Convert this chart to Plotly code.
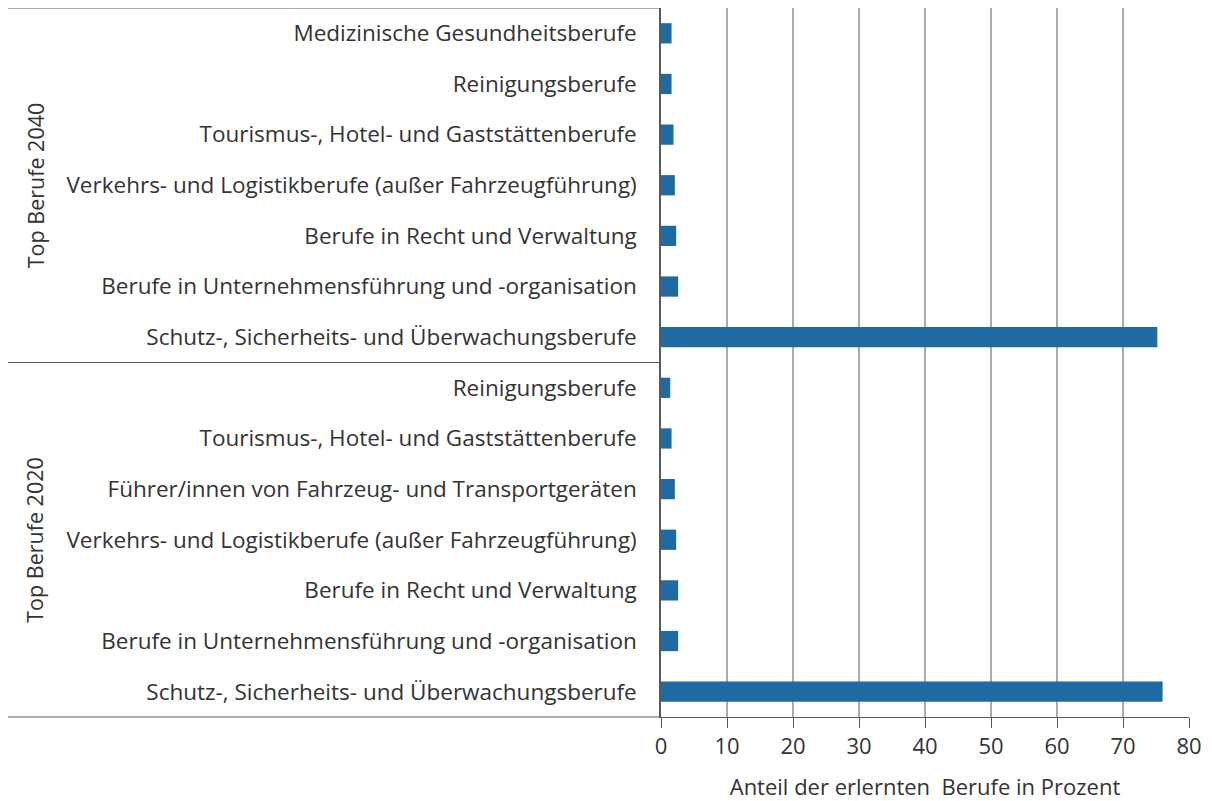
import plotly.graph_objects as go

labels_2040 = [
    "Medizinische Gesundheitsberufe",
    "Reinigungsberufe",
    "Tourismus-, Hotel- und Gaststättenberufe",
    "Verkehrs- und Logistikberufe (außer Fahrzeugführung)",
    "Berufe in Recht und Verwaltung",
    "Berufe in Unternehmensführung und -organisation",
    "Schutz-, Sicherheits- und Überwachungsberufe",
]
values_2040 = [1.6, 1.6, 1.9, 2.1, 2.3, 2.6, 75.2]

labels_2020 = [
    "Reinigungsberufe",
    "Tourismus-, Hotel- und Gaststättenberufe",
    "Führer/innen von Fahrzeug- und Transportgeräten",
    "Verkehrs- und Logistikberufe (außer Fahrzeugführung)",
    "Berufe in Recht und Verwaltung",
    "Berufe in Unternehmensführung und -organisation",
    "Schutz-, Sicherheits- und Überwachungsberufe",
]
values_2020 = [1.4, 1.6, 2.1, 2.3, 2.6, 2.6, 76.0]

group_titles = ["Top Berufe 2040", "Top Berufe 2020"]
x_ticks = [0, 10, 20, 30, 40, 50, 60, 70, 80]
x_title = "Anteil der erlernten\u00a0 Berufe in Prozent"

FONT = "Open Sans"
FS = 22.5
TXT = "#333333"
BAR = "#1F6BA1"

labels = labels_2040 + labels_2020
values = values_2040 + values_2020
n = len(labels)
ypos = list(range(n))

fig = go.Figure()
fig.add_trace(go.Bar(
    x=values, y=ypos, orientation="h",
    marker=dict(color=BAR, line=dict(width=0)),
    width=0.4, hoverinfo="x+text", text=labels, textposition="none",
))

# figure is placed at (8,8) in the page by the body margin
W, H = 1204, 793
L, R, T, B = 653, 23, 0, 84
pw = W - L - R
ph = H - T - B

def px_to_paper_x(px):
    return (px - L) / pw

line_col = "#595959"
shapes = []
for yfrac in [1.0, 0.5, 0.0]:
    shapes.append(dict(type="line", xref="paper", yref="paper",
                       x0=px_to_paper_x(0), x1=0, y0=yfrac, y1=yfrac,
                       line=dict(color=line_col, width=1)))

annotations = []
for gi, title in enumerate(group_titles):
    yc = 1 - (gi + 0.5) / 2
    annotations.append(dict(text=title, xref="paper", yref="paper",
                            x=px_to_paper_x(27), y=yc, textangle=-90,
                            showarrow=False, xanchor="center", yanchor="middle",
                            font=dict(family=FONT, size=21.5, color=TXT)))

fig.update_layout(
    width=W, height=H,
    margin=dict(l=L, r=R, t=T, b=B, pad=0),
    paper_bgcolor="white", plot_bgcolor="white",
    showlegend=False,
    font=dict(family=FONT, size=FS, color=TXT),
    shapes=shapes, annotations=annotations,
    xaxis=dict(range=[0, 80], tickvals=x_ticks, showgrid=True,
               gridcolor="#ABABAB", gridwidth=1.5, zeroline=False,
               showline=True, linecolor=line_col, linewidth=1,
               ticks="outside", ticklen=10, tickcolor=line_col,
               tickfont=dict(family=FONT, size=22, color=TXT),
               title=dict(text=x_title, standoff=22,
                          font=dict(family=FONT, size=22, color=TXT))),
    yaxis=dict(range=[n - 0.5, -0.5], tickvals=ypos, ticktext=labels,
               showgrid=False, zeroline=False, showline=True,
               linecolor=line_col, linewidth=1.5, ticks="",
               ticklabelstandoff=18,
               tickfont=dict(family=FONT, size=FS, color=TXT)),
)

fig.write_html("out.html")
